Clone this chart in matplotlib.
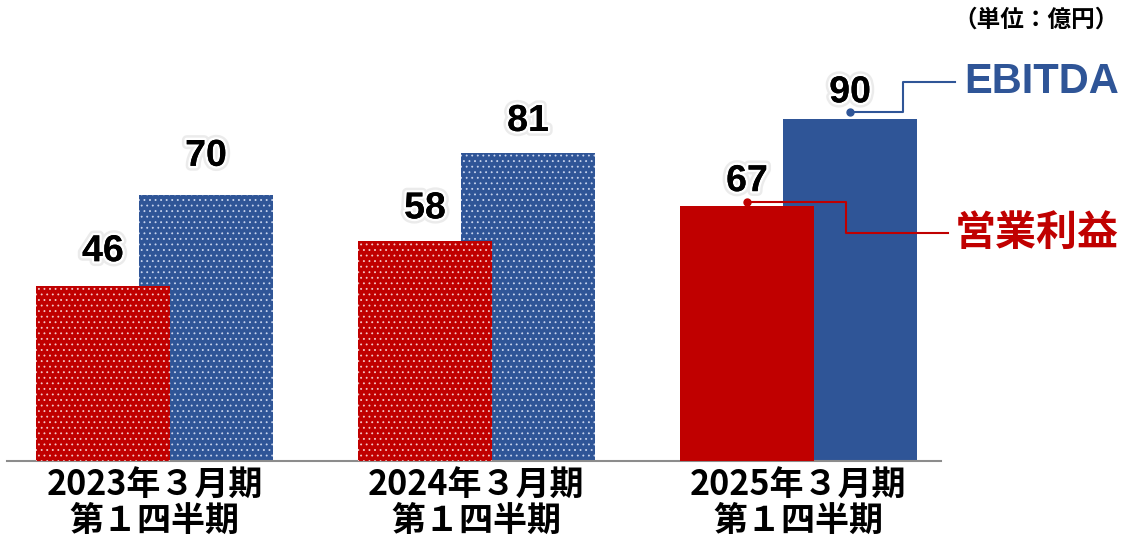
import matplotlib
matplotlib.use("Agg")
import matplotlib.pyplot as plt
import matplotlib.patheffects as pe
import numpy as np

categories = ["2023年３月期\n第１四半期", "2024年３月期\n第１四半期", "2025年３月期\n第１四半期"]
operating_profit = [46, 58, 67]
ebitda = [70, 81, 90]
series_names = ["営業利益", "EBITDA"]
unit_label = "（単位：億円）"

RED = "#C00000"
BLUE = "#2F5597"
hatches = ["...", "...", None]
red_gap_pt = [18, 16, 11]
blue_gap_pt = [21, 16, 12]

plt.rcParams["hatch.linewidth"] = 0.6
W, H = 1124, 541
fig = plt.figure(figsize=(W / 100, H / 100), dpi=100)
ax = fig.add_axes([7 / W, 1 - 461 / H, (941 - 7) / W, 456 / H])

x = np.arange(len(categories))
off = 0.16
bw = 0.416
for i in range(len(categories)):
    h = hatches[i]
    ax.bar(x[i] + off, ebitda[i], bw, color=BLUE, edgecolor="#c8d4ee" if h else BLUE,
           linewidth=0, hatch=h, zorder=2)
    ax.bar(x[i] - off, operating_profit[i], bw, color=RED, edgecolor="#f4c8c8" if h else RED,
           linewidth=0, hatch=h, zorder=3)

ax.set_xlim(-(154.5 - 7) / 322, 2 + (941 - 798.5) / 322)
ax.set_ylim(0, 120)
for s in ["top", "right", "left"]:
    ax.spines[s].set_visible(False)
ax.spines["bottom"].set_color("#8c8c8c")
ax.spines["bottom"].set_linewidth(1.5)
ax.set_yticks([])
ax.set_xticks(x)
ax.set_xticklabels(categories, fontsize=24.5, fontweight="bold",
                   family=["Noto Sans CJK JP"], linespacing=0.98)
ax.tick_params(axis="x", length=0, pad=5)

glow = [pe.withStroke(linewidth=7, foreground="#d8d8d8", alpha=0.5),
        pe.withStroke(linewidth=3.5, foreground="white"), pe.Normal()]
num_font = dict(fontsize=27, fontweight="bold", family=["Liberation Sans", "DejaVu Sans"],
                color="black", ha="center", va="baseline")
for i in range(len(categories)):
    for xv, val, g in [(x[i] - off, operating_profit[i], red_gap_pt[i]),
                       (x[i] + off, ebitda[i], blue_gap_pt[i])]:
        t = ax.annotate(f"{val}", (xv, val), xytext=(0, g),
                        textcoords="offset points", zorder=5, **num_font)
        t.set_path_effects(glow)

# leader lines for the legend (last group)
i = len(categories) - 1
bx = x[i] + off
rx = x[i] - off
# EBITDA
y0 = ebitda[i] + 1.8
y1 = ebitda[i] + 9.7
ax.plot([bx, 2.3245, 2.3245, 2.486], [y0, y0, y1, y1], color=BLUE, lw=1.5,
        clip_on=False, zorder=6)
ax.plot([bx], [y0], "o", color=BLUE, ms=5, clip_on=False, zorder=6)
ax.text(2.514, y1, series_names[1], color=BLUE, fontsize=30, fontweight="bold",
        family=["Liberation Sans"], ha="left", va="center")
# operating profit
y0 = operating_profit[i] + 1.2
y1 = operating_profit[i] - 7.0
ax.plot([rx, 2.147, 2.147, 2.464], [y0, y0, y1, y1], color=RED, lw=1.5,
        clip_on=False, zorder=6)
ax.plot([rx], [y0], "o", color=RED, ms=5, clip_on=False, zorder=6)
ax.text(2.486, y1, series_names[0], color=RED, fontsize=29.5, fontweight="bold",
        family=["Noto Sans CJK JP"], ha="left", va="center")

fig.text(1119 / W, 1 - 20 / H, unit_label, fontsize=17, fontweight="bold",
         family=["Noto Sans CJK JP"], ha="right", va="center")

fig.savefig("out.png", dpi=100)
